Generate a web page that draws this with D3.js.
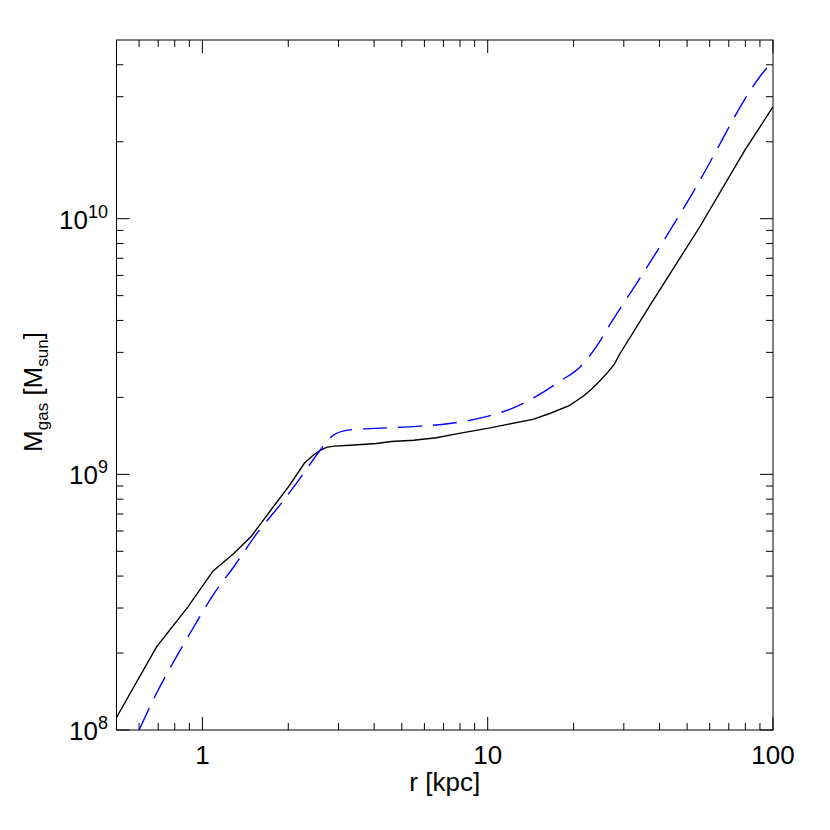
<!DOCTYPE html>
<html lang="en">
<head>
<meta charset="UTF-8">
<title>M_gas profile</title>
<script src="https://cdn.jsdelivr.net/npm/d3@7"></script>
<style>
  body { margin: 0; background: #fff; }
  text { font-family: "Liberation Sans", Arial, Helvetica, sans-serif; fill: #000; }
</style>
</head>
<body>
<div id="chart"></div>
<script>
// radius in kpc, gas mass in units of 1e9 Msun
var rSolid = [0.5, 0.69, 0.89, 1.09, 1.28, 1.485, 1.77, 2.02, 2.28, 2.45, 2.6, 2.72, 2.9, 3.3, 4.07, 4.6, 5.5, 6.61, 7.77, 10.2, 11.6, 14.4, 16.5, 19.4, 21.6, 23.2, 24.7, 26.3, 27.8, 29.0, 37.0, 55.4, 79.6, 100];
var mSolid = [0.112, 0.211, 0.303, 0.419, 0.487, 0.573, 0.745, 0.906, 1.107, 1.19, 1.245, 1.275, 1.29, 1.30, 1.32, 1.345, 1.36, 1.39, 1.44, 1.52, 1.565, 1.64, 1.73, 1.86, 2.02, 2.16, 2.32, 2.5, 2.7, 2.95, 4.57, 9.3, 18.5, 27.4];

var rDashed = [0.6, 0.69, 0.793, 0.927, 1.09, 1.30, 1.55, 1.89, 2.28, 2.61, 2.87, 3.24, 4.41, 5.63, 7.36, 9.63, 12.6, 14.8, 18.1, 21.0, 24.0, 26.8, 34.1, 43.5, 55.4, 66.1, 76.5, 89.9, 100];
var mDashed = [0.100, 0.139, 0.185, 0.25, 0.337, 0.441, 0.586, 0.77, 1.02, 1.26, 1.42, 1.49, 1.52, 1.54, 1.58, 1.67, 1.84, 2.02, 2.33, 2.62, 3.15, 3.85, 5.83, 8.98, 14.1, 20.2, 27.2, 35.9, 41.4];

var xMajor = [1, 10, 100];
var xMajorLabels = ["1", "10", "100"];
var yMajor = [1e8, 1e9, 1e10];
var yMajorExp = ["8", "9", "10"];

var W = 830, H = 830;
var pL = 116.5, pR = 773, pT = 40, pB = 730;

var svg = d3.select("#chart").append("svg")
    .attr("width", W)
    .attr("height", H);

var x = d3.scaleLog().domain([0.5, 100]).range([pL, pR]);
var y = d3.scaleLog().domain([1e8, 5e10]).range([pB, pT]);

// minor ticks
var xMinor = [];
[0.1, 1, 10].forEach(function(d) {
    for (var k = 2; k <= 9; k++) {
        var v = d * k;
        if (v > 0.5 && v < 100) xMinor.push(v);
    }
});
var yMinor = [];
[1e8, 1e9, 1e10].forEach(function(d) {
    for (var k = 2; k <= 9; k++) {
        var v = d * k;
        if (v < 5e10) yMinor.push(v);
    }
});

var g = svg.append("g");

function tick(x1, y1, x2, y2) {
    g.append("line")
        .attr("x1", x1).attr("y1", y1)
        .attr("x2", x2).attr("y2", y2)
        .attr("stroke", "#000")
        .attr("stroke-width", 1);
}

var majL = 13, minL = 7;
xMajor.forEach(function(d) {
    var px = x(d);
    tick(px, pB, px, pB - majL);
    tick(px, pT, px, pT + majL);
});
xMinor.forEach(function(d) {
    var px = x(d);
    tick(px, pB, px, pB - minL);
    tick(px, pT, px, pT + minL);
});
yMajor.forEach(function(d) {
    var py = y(d);
    tick(pL, py, pL + majL, py);
    tick(pR, py, pR - majL, py);
});
yMinor.forEach(function(d) {
    var py = y(d);
    tick(pL, py, pL + minL, py);
    tick(pR, py, pR - minL, py);
});

// frame
g.append("rect")
    .attr("x", pL).attr("y", pT)
    .attr("width", pR - pL).attr("height", pB - pT)
    .attr("fill", "none")
    .attr("stroke", "#000")
    .attr("stroke-width", 1);

// x tick labels
xMajor.forEach(function(d, i) {
    g.append("text")
        .attr("x", x(d))
        .attr("y", pB + 34)
        .attr("text-anchor", "middle")
        .style("font-size", "26px")
        .text(xMajorLabels[i]);
});

// y tick labels 10^n
yMajor.forEach(function(d, i) {
    var t = g.append("text")
        .attr("x", 108)
        .attr("y", y(d) + 10)
        .attr("text-anchor", "end")
        .style("font-size", "26px");
    t.append("tspan").text("10");
    t.append("tspan")
        .attr("dy", -11)
        .style("font-size", "18px")
        .text(yMajorExp[i]);
});

// axis titles
g.append("text")
    .attr("x", (pL + pR) / 2)
    .attr("y", 791)
    .attr("text-anchor", "middle")
    .style("font-size", "26px")
    .text("r [kpc]");

var yt = g.append("text")
    .attr("transform", "translate(42," + 392 + ") rotate(-90)")
    .attr("text-anchor", "middle")
    .style("font-size", "26px");
yt.append("tspan").text("M");
yt.append("tspan").attr("dy", 6).style("font-size", "17px").text("gas");
yt.append("tspan").attr("dy", -6).text(" [M");
yt.append("tspan").attr("dy", 6).style("font-size", "17px").text("sun");
yt.append("tspan").attr("dy", -6).text("]");

// curves
var plot = svg.append("g");
plot.append("clipPath").attr("id", "clip")
    .append("rect")
    .attr("x", pL).attr("y", pT)
    .attr("width", pR - pL).attr("height", pB - pT);

var line = d3.line()
    .x(function(d) { return x(d[0]); })
    .y(function(d) { return y(d[1] * 1e9); });

plot.append("path")
    .datum(rSolid.map(function(r, i) { return [r, mSolid[i]]; }))
    .attr("d", line.curve(d3.curveLinear))
    .attr("clip-path", "url(#clip)")
    .attr("fill", "none")
    .attr("stroke", "#000")
    .attr("stroke-width", 1.4);

plot.append("path")
    .datum(rDashed.map(function(r, i) { return [r, mDashed[i]]; }))
    .attr("d", line.curve(d3.curveMonotoneX))
    .attr("clip-path", "url(#clip)")
    .attr("fill", "none")
    .attr("stroke", "#0000ff")
    .attr("stroke-width", 1.4)
    .attr("stroke-dasharray", "24,11");
</script>
</body>
</html>
